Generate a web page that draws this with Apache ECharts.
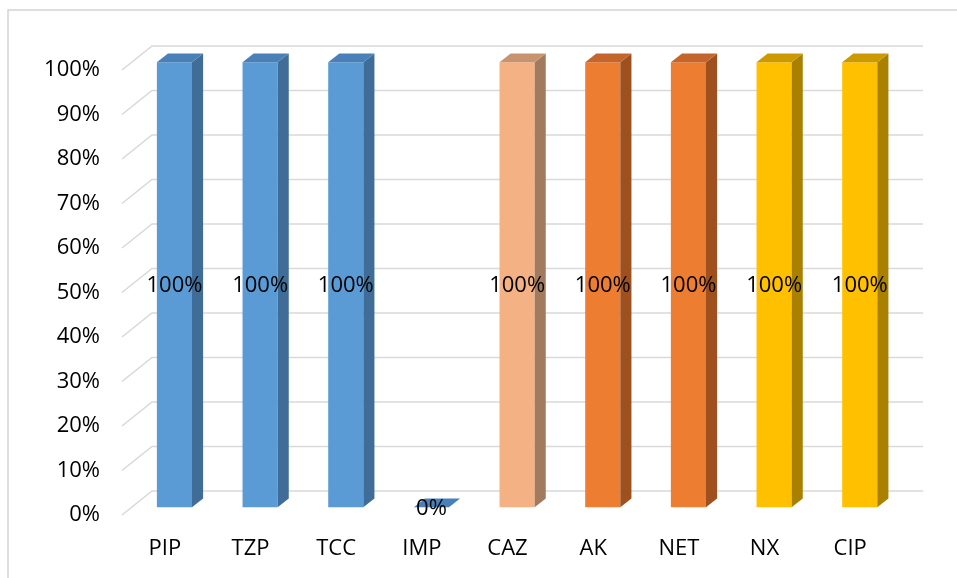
<!DOCTYPE html>
<html>
<head>
<meta charset="utf-8">
<title>Susceptibility</title>
<script src="https://cdn.jsdelivr.net/npm/echarts@6/dist/echarts.min.js"></script>
<style>
  html, body { margin: 0; padding: 0; background: #fff; }
  #chart { width: 957px; height: 578px; }
</style>
</head>
<body>
<div id="chart"></div>
<script>
// Antibiotics and the share of isolates (0..1)
const categories = ['PIP', 'TZP', 'TCC', 'IMP', 'CAZ', 'AK', 'NET', 'NX', 'CIP'];
const values = [1, 1, 1, 0, 1, 1, 1, 1, 1];
const yTicks = [0, 0.1, 0.2, 0.3, 0.4, 0.5, 0.6, 0.7, 0.8, 0.9, 1];

// Face colours per bar: [front, side, top]
const blue = ['#5B9BD5', '#3F6D98', '#4A80B8'];
const peach = ['#F4B183', '#A27A5E', '#C8936F'];
const orange = ['#ED7D31', '#9E501F', '#C4652B'];
const gold = ['#FFC000', '#A98000', '#CC9A00'];
const barFaces = [blue, blue, blue, blue, peach, orange, orange, gold, gold];

// Pseudo-3D depth: full offset of the back wall from the front plane
const DX = 30, DY = -24;
const F1 = 0.32, F2 = 0.69;   // front and back depth of a bar

const fontFamily = '"Open Sans", "Liberation Sans", sans-serif';

const chart = echarts.init(document.getElementById('chart'), null, { renderer: 'canvas' });

function pct(v) { return Math.round(v * 100) + '%'; }

const option = {
  backgroundColor: '#fff',
  animation: false,
  graphic: [{
    type: 'rect',
    shape: { x: 8, y: 10, width: 1200, height: 1200 },
    style: { fill: 'none', stroke: '#d4d4d4', lineWidth: 1.5 },
    silent: true,
    z: 0
  }],
  grid: { left: 122, top: 70, width: 771, height: 445 },
  xAxis: {
    type: 'category',
    data: categories,
    axisLine: { show: false },
    axisTick: { show: false },
    axisLabel: { color: '#000', fontSize: 22, fontFamily: fontFamily, margin: 23 },
    splitLine: { show: false }
  },
  yAxis: {
    type: 'value',
    min: 0,
    max: 1,
    interval: 0.1,
    axisLine: { show: false },
    axisTick: { show: false },
    splitLine: { show: false },
    axisLabel: { color: '#000', fontSize: 22, fontFamily: fontFamily, margin: 22, formatter: pct }
  },
  series: [
    {
      // side wall diagonal + back wall gridline for each tick
      type: 'custom',
      data: yTicks.map(function (t) { return [0, t]; }),
      silent: true,
      z: 1,
      renderItem: function (params, api) {
        const cs = params.coordSys;
        const y = api.coord([0, api.value(1)])[1];
        return {
          type: 'polyline',
          shape: { points: [[cs.x, y], [cs.x + DX, y + DY], [cs.x + cs.width + DX, y + DY]] },
          style: { stroke: '#d9d9d9', lineWidth: 1.6, fill: 'none' }
        };
      }
    },
    {
      type: 'custom',
      data: values.map(function (v, i) { return [i, v]; }),
      z: 3,
      renderItem: function (params, api) {
        const i = api.value(0);
        const v = api.value(1);
        const faces = barFaces[i];
        const p0 = api.coord([i, 0]);
        const p1 = api.coord([i, v]);
        const w = api.size([1, 0])[0] * 0.41;
        const ax = p0[0] + F1 * DX - w / 2;
        const bx = ax + w;
        const yb = p0[1] + F1 * DY;
        const yt = p1[1] + F1 * DY;
        const ox = (F2 - F1) * DX;
        const oy = (F2 - F1) * DY;
        const children = [];
        if (yb - yt > 0.5) {
          children.push({
            type: 'rect',
            shape: { x: ax, y: yt, width: w, height: yb - yt },
            style: { fill: faces[0] }
          });
          children.push({
            type: 'polygon',
            shape: { points: [[bx, yt], [bx + ox, yt + oy], [bx + ox, yb + oy], [bx, yb]] },
            style: { fill: faces[1] }
          });
        }
        children.push({
          type: 'polygon',
          shape: { points: [[ax, yt], [bx, yt], [bx + ox, yt + oy], [ax + ox, yt + oy]] },
          style: { fill: faces[2] }
        });
        children.push({
          type: 'text',
          style: {
            x: (ax + bx) / 2,
            y: (yt + yb) / 2 + 1,
            text: pct(v),
            fill: '#000',
            font: '22px ' + fontFamily,
            align: 'center',
            verticalAlign: 'middle'
          },
          z2: 10
        });
        return { type: 'group', children: children };
      }
    }
  ]
};

chart.setOption(option);
</script>
</body>
</html>
